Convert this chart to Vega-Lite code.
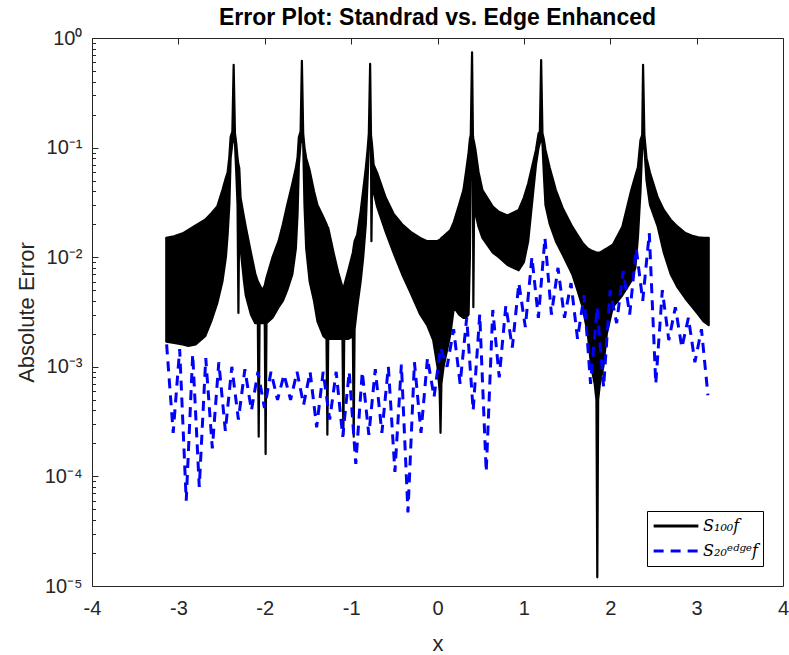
{
  "$schema": "https://vega.github.io/schema/vega-lite/v6.json",
  "width": 691,
  "height": 548,
  "autosize": "none",
  "padding": {"left": 92, "top": 38, "right": 6, "bottom": 69},
  "background": "white",
  "title": {"text": "Error Plot: Standrad vs. Edge Enhanced", "font": "Liberation Sans", "fontSize": 23, "fontWeight": "bold", "color": "#000000", "anchor": "middle", "offset": -2},
  "config": {
    "view": {"stroke": null},
    "axis": {"grid": true, "ticks": false, "tickSize": 0, "domainColor": "#262626", "domainWidth": 1, "gridColor": "#262626", "gridWidth": 1, "gridOpacity": 1, "labelColor": "#262626", "labelFont": "Liberation Sans", "labelFontSize": 20, "titleFont": "Liberation Sans", "titleFontSize": 22, "titleFontWeight": "normal", "titleColor": "#262626"},
    "legend": {"orient": "none", "legendX": 555, "legendY": 473, "symbolType": "stroke", "symbolSize": 2000, "symbolStrokeWidth": 3, "clipHeight": 20, "labelFont": "DejaVu Serif", "labelFontStyle": "italic", "labelFontSize": 16, "labelColor": "#000000", "padding": 5, "strokeColor": "#000000", "fillColor": "#ffffff", "rowPadding": 5, "labelOffset": 3, "cornerRadius": 0}
  },
  "resolve": {"axis": {"x": "independent", "y": "independent"}},
  "datasets": {
    "black": [
      {"x": -3.14, "hi": 0.015, "lo": 0.0017},
      {"x": -3.05, "hi": 0.0155, "lo": 0.00165},
      {"x": -2.95, "hi": 0.0165, "lo": 0.0016},
      {"x": -2.885, "hi": 0.0177, "lo": 0.00155},
      {"x": -2.8, "hi": 0.0195, "lo": 0.0016},
      {"x": -2.69, "hi": 0.022, "lo": 0.0019},
      {"x": -2.62, "hi": 0.025, "lo": 0.0026},
      {"x": -2.55, "hi": 0.029, "lo": 0.0038},
      {"x": -2.49, "hi": 0.041, "lo": 0.006},
      {"x": -2.45, "hi": 0.053, "lo": 0.01},
      {"x": -2.43, "hi": 0.059, "lo": 0.016},
      {"x": -2.41, "hi": 0.082, "lo": 0.03},
      {"x": -2.395, "hi": 0.125, "lo": 0.08},
      {"x": -2.375, "hi": 0.14, "lo": 0.11},
      {"x": -2.36, "hi": 0.57, "lo": 0.12},
      {"x": -2.345, "hi": 0.135, "lo": 0.11},
      {"x": -2.33, "hi": 0.11, "lo": 0.06},
      {"x": -2.315, "hi": 0.08, "lo": 0.03},
      {"x": -2.305, "hi": 0.07, "lo": 0.0031},
      {"x": -2.295, "hi": 0.065, "lo": 0.025},
      {"x": -2.28, "hi": 0.035, "lo": 0.012},
      {"x": -2.24, "hi": 0.023, "lo": 0.006},
      {"x": -2.22, "hi": 0.019, "lo": 0.0045},
      {"x": -2.16, "hi": 0.011, "lo": 0.003},
      {"x": -2.11, "hi": 0.0071, "lo": 0.0025},
      {"x": -2.08, "hi": 0.006, "lo": 0.0025},
      {"x": -2.07, "hi": 0.0058, "lo": 0.00023},
      {"x": -2.06, "hi": 0.0056, "lo": 0.0025},
      {"x": -2.03, "hi": 0.005, "lo": 0.0025},
      {"x": -2.0, "hi": 0.0055, "lo": 0.0025},
      {"x": -1.99, "hi": 0.006, "lo": 0.00016},
      {"x": -1.98, "hi": 0.0065, "lo": 0.0025},
      {"x": -1.91, "hi": 0.01, "lo": 0.0028},
      {"x": -1.84, "hi": 0.014, "lo": 0.0035},
      {"x": -1.79, "hi": 0.02, "lo": 0.004},
      {"x": -1.74, "hi": 0.03, "lo": 0.005},
      {"x": -1.68, "hi": 0.047, "lo": 0.007},
      {"x": -1.64, "hi": 0.065, "lo": 0.012},
      {"x": -1.62, "hi": 0.082, "lo": 0.025},
      {"x": -1.605, "hi": 0.125, "lo": 0.07},
      {"x": -1.585, "hi": 0.14, "lo": 0.11},
      {"x": -1.57, "hi": 0.62, "lo": 0.12},
      {"x": -1.555, "hi": 0.135, "lo": 0.11},
      {"x": -1.54, "hi": 0.1, "lo": 0.03},
      {"x": -1.52, "hi": 0.08, "lo": 0.012},
      {"x": -1.48, "hi": 0.062, "lo": 0.006},
      {"x": -1.43, "hi": 0.04, "lo": 0.004},
      {"x": -1.39, "hi": 0.03, "lo": 0.0026},
      {"x": -1.32, "hi": 0.023, "lo": 0.0019},
      {"x": -1.285, "hi": 0.02, "lo": 0.0018},
      {"x": -1.275, "hi": 0.019, "lo": 0.00024},
      {"x": -1.265, "hi": 0.0185, "lo": 0.0018},
      {"x": -1.2, "hi": 0.0107, "lo": 0.0018},
      {"x": -1.15, "hi": 0.0073, "lo": 0.0018},
      {"x": -1.1, "hi": 0.0053, "lo": 0.0018},
      {"x": -1.09, "hi": 0.005, "lo": 0.00024},
      {"x": -1.08, "hi": 0.0055, "lo": 0.0018},
      {"x": -1.03, "hi": 0.0077, "lo": 0.0018},
      {"x": -0.98, "hi": 0.011, "lo": 0.0019},
      {"x": -0.97, "hi": 0.0125, "lo": 0.00023},
      {"x": -0.96, "hi": 0.014, "lo": 0.0022},
      {"x": -0.93, "hi": 0.016, "lo": 0.0035},
      {"x": -0.89, "hi": 0.026, "lo": 0.006},
      {"x": -0.86, "hi": 0.041, "lo": 0.01},
      {"x": -0.83, "hi": 0.065, "lo": 0.02},
      {"x": -0.81, "hi": 0.095, "lo": 0.05},
      {"x": -0.795, "hi": 0.135, "lo": 0.1},
      {"x": -0.78, "hi": 0.58, "lo": 0.12},
      {"x": -0.77, "hi": 0.13, "lo": 0.1},
      {"x": -0.765, "hi": 0.12, "lo": 0.014},
      {"x": -0.755, "hi": 0.1, "lo": 0.06},
      {"x": -0.74, "hi": 0.07, "lo": 0.04},
      {"x": -0.7, "hi": 0.059, "lo": 0.029},
      {"x": -0.6, "hi": 0.035, "lo": 0.017},
      {"x": -0.51, "hi": 0.025, "lo": 0.011},
      {"x": -0.41, "hi": 0.02, "lo": 0.007},
      {"x": -0.31, "hi": 0.017, "lo": 0.0047},
      {"x": -0.2, "hi": 0.015, "lo": 0.003},
      {"x": -0.12, "hi": 0.014, "lo": 0.0024},
      {"x": -0.05, "hi": 0.014, "lo": 0.00175},
      {"x": 0.0, "hi": 0.014, "lo": 0.001},
      {"x": 0.025, "hi": 0.0145, "lo": 0.0006},
      {"x": 0.035, "hi": 0.0145, "lo": 0.00025},
      {"x": 0.045, "hi": 0.015, "lo": 0.0007},
      {"x": 0.07, "hi": 0.0155, "lo": 0.001},
      {"x": 0.15, "hi": 0.0177, "lo": 0.002},
      {"x": 0.19, "hi": 0.021, "lo": 0.0035},
      {"x": 0.25, "hi": 0.03, "lo": 0.003},
      {"x": 0.3, "hi": 0.041, "lo": 0.0028},
      {"x": 0.33, "hi": 0.06, "lo": 0.0028},
      {"x": 0.36, "hi": 0.09, "lo": 0.003},
      {"x": 0.375, "hi": 0.12, "lo": 0.01},
      {"x": 0.385, "hi": 0.13, "lo": 0.05},
      {"x": 0.4, "hi": 0.74, "lo": 0.12},
      {"x": 0.41, "hi": 0.13, "lo": 0.1},
      {"x": 0.415, "hi": 0.12, "lo": 0.0035},
      {"x": 0.425, "hi": 0.11, "lo": 0.04},
      {"x": 0.44, "hi": 0.095, "lo": 0.025},
      {"x": 0.475, "hi": 0.06, "lo": 0.019},
      {"x": 0.52, "hi": 0.041, "lo": 0.015},
      {"x": 0.64, "hi": 0.029, "lo": 0.011},
      {"x": 0.71, "hi": 0.026, "lo": 0.01},
      {"x": 0.81, "hi": 0.024, "lo": 0.0085},
      {"x": 0.94, "hi": 0.027, "lo": 0.0076},
      {"x": 1.0, "hi": 0.035, "lo": 0.009},
      {"x": 1.05, "hi": 0.047, "lo": 0.014},
      {"x": 1.11, "hi": 0.075, "lo": 0.041},
      {"x": 1.14, "hi": 0.095, "lo": 0.07},
      {"x": 1.17, "hi": 0.135, "lo": 0.1},
      {"x": 1.185, "hi": 0.14, "lo": 0.11},
      {"x": 1.2, "hi": 0.63, "lo": 0.12},
      {"x": 1.215, "hi": 0.135, "lo": 0.11},
      {"x": 1.23, "hi": 0.12, "lo": 0.06},
      {"x": 1.25, "hi": 0.095, "lo": 0.03},
      {"x": 1.3, "hi": 0.065, "lo": 0.02},
      {"x": 1.37, "hi": 0.041, "lo": 0.014},
      {"x": 1.45, "hi": 0.028, "lo": 0.0105},
      {"x": 1.56, "hi": 0.019, "lo": 0.007},
      {"x": 1.62, "hi": 0.016, "lo": 0.005},
      {"x": 1.68, "hi": 0.0135, "lo": 0.0035},
      {"x": 1.74, "hi": 0.012, "lo": 0.002},
      {"x": 1.78, "hi": 0.0115, "lo": 0.001},
      {"x": 1.82, "hi": 0.0112, "lo": 0.0007},
      {"x": 1.84, "hi": 0.011, "lo": 0.0005},
      {"x": 1.85, "hi": 0.011, "lo": 0.000012},
      {"x": 1.86, "hi": 0.011, "lo": 0.0005},
      {"x": 1.88, "hi": 0.011, "lo": 0.0007},
      {"x": 1.92, "hi": 0.0115, "lo": 0.001},
      {"x": 1.96, "hi": 0.012, "lo": 0.002},
      {"x": 2.03, "hi": 0.013, "lo": 0.0035},
      {"x": 2.14, "hi": 0.019, "lo": 0.0045},
      {"x": 2.24, "hi": 0.04, "lo": 0.006},
      {"x": 2.29, "hi": 0.055, "lo": 0.008},
      {"x": 2.32, "hi": 0.066, "lo": 0.015},
      {"x": 2.35, "hi": 0.117, "lo": 0.04},
      {"x": 2.37, "hi": 0.13, "lo": 0.1},
      {"x": 2.38, "hi": 0.57, "lo": 0.12},
      {"x": 2.395, "hi": 0.13, "lo": 0.1},
      {"x": 2.42, "hi": 0.08, "lo": 0.05},
      {"x": 2.46, "hi": 0.059, "lo": 0.03},
      {"x": 2.55, "hi": 0.035, "lo": 0.019},
      {"x": 2.62, "hi": 0.027, "lo": 0.011},
      {"x": 2.7, "hi": 0.022, "lo": 0.007},
      {"x": 2.78, "hi": 0.019, "lo": 0.0053},
      {"x": 2.87, "hi": 0.0166, "lo": 0.0042},
      {"x": 2.95, "hi": 0.0157, "lo": 0.0035},
      {"x": 3.02, "hi": 0.0152, "lo": 0.003},
      {"x": 3.08, "hi": 0.015, "lo": 0.0026},
      {"x": 3.14, "hi": 0.015, "lo": 0.0024}
    ],
    "blue": [
      {"x": -3.136, "y": 0.0016}, {"x": -3.06, "y": 0.00025}, {"x": -2.985, "y": 0.00145}, {"x": -2.909, "y": 0.00006},
      {"x": -2.834, "y": 0.0013}, {"x": -2.758, "y": 0.00008}, {"x": -2.683, "y": 0.0012}, {"x": -2.607, "y": 0.00018},
      {"x": -2.532, "y": 0.0011}, {"x": -2.456, "y": 0.00026}, {"x": -2.381, "y": 0.001}, {"x": -2.305, "y": 0.00033},
      {"x": -2.23, "y": 0.00095}, {"x": -2.154, "y": 0.0004}, {"x": -2.079, "y": 0.0009}, {"x": -2.003, "y": 0.00042},
      {"x": -1.928, "y": 0.0009}, {"x": -1.852, "y": 0.0005}, {"x": -1.777, "y": 0.00085}, {"x": -1.701, "y": 0.0005},
      {"x": -1.626, "y": 0.0009}, {"x": -1.55, "y": 0.00045}, {"x": -1.475, "y": 0.0009}, {"x": -1.399, "y": 0.00028},
      {"x": -1.324, "y": 0.0009}, {"x": -1.248, "y": 0.00033}, {"x": -1.173, "y": 0.0009}, {"x": -1.097, "y": 0.00023},
      {"x": -1.022, "y": 0.0009}, {"x": -0.946, "y": 0.00013}, {"x": -0.871, "y": 0.0009}, {"x": -0.795, "y": 0.00024},
      {"x": -0.72, "y": 0.00095}, {"x": -0.644, "y": 0.00025}, {"x": -0.569, "y": 0.001}, {"x": -0.493, "y": 0.00011},
      {"x": -0.418, "y": 0.00105}, {"x": -0.342, "y": 0.000047}, {"x": -0.267, "y": 0.0011}, {"x": -0.191, "y": 0.00025},
      {"x": -0.116, "y": 0.0012}, {"x": -0.04, "y": 0.00053}, {"x": 0.036, "y": 0.0015}, {"x": 0.111, "y": 0.001},
      {"x": 0.187, "y": 0.0022}, {"x": 0.262, "y": 0.0007}, {"x": 0.338, "y": 0.0028}, {"x": 0.413, "y": 0.0004},
      {"x": 0.489, "y": 0.003}, {"x": 0.564, "y": 0.00011}, {"x": 0.64, "y": 0.0033}, {"x": 0.715, "y": 0.0008},
      {"x": 0.791, "y": 0.0036}, {"x": 0.866, "y": 0.0015}, {"x": 0.942, "y": 0.0058}, {"x": 1.017, "y": 0.0023},
      {"x": 1.093, "y": 0.01}, {"x": 1.168, "y": 0.0028}, {"x": 1.244, "y": 0.015}, {"x": 1.319, "y": 0.003},
      {"x": 1.395, "y": 0.008}, {"x": 1.47, "y": 0.0028}, {"x": 1.546, "y": 0.0058}, {"x": 1.621, "y": 0.0018},
      {"x": 1.697, "y": 0.0045}, {"x": 1.772, "y": 0.0007}, {"x": 1.848, "y": 0.0035}, {"x": 1.923, "y": 0.00065},
      {"x": 1.999, "y": 0.005}, {"x": 2.074, "y": 0.0025}, {"x": 2.15, "y": 0.0075}, {"x": 2.225, "y": 0.003},
      {"x": 2.301, "y": 0.012}, {"x": 2.376, "y": 0.004}, {"x": 2.452, "y": 0.0166}, {"x": 2.527, "y": 0.0007},
      {"x": 2.603, "y": 0.005}, {"x": 2.678, "y": 0.00175}, {"x": 2.754, "y": 0.0035}, {"x": 2.829, "y": 0.0015},
      {"x": 2.905, "y": 0.0028}, {"x": 2.98, "y": 0.0011}, {"x": 3.056, "y": 0.0022}, {"x": 3.131, "y": 0.00055}
    ]
  },
  "layer": [
    {
      "data": {"name": "black"},
      "mark": {"type": "area", "color": "#000000", "stroke": "#000000", "strokeWidth": 2.2, "strokeJoin": "round", "opacity": 1},
      "encoding": {
        "x": {"field": "x", "type": "quantitative", "scale": {"domain": [-4, 4], "nice": false, "zero": false},
          "axis": {"orient": "bottom", "values": [-4, -3, -2, -1, 0, 1, 2, 3, 4], "labelExpr": "datum.value < 0 ? '-' + abs(datum.value) : '' + datum.value", "gridDash": [6, 2000], "labelPadding": 12, "labelFlush": false, "title": "x", "titlePadding": 15}},
        "y": {"field": "hi", "type": "quantitative", "scale": {"type": "log", "domain": [0.00001, 1], "nice": false},
          "axis": {"orient": "left", "values": [0.00001, 0.00002, 0.00003, 0.00004, 0.00005, 0.00006, 0.00007, 0.00008, 0.00009, 0.0001, 0.0002, 0.0003, 0.0004, 0.0005, 0.0006, 0.0007, 0.0008, 0.0009, 0.001, 0.002, 0.003, 0.004, 0.005, 0.006, 0.007, 0.008, 0.009, 0.01, 0.02, 0.03, 0.04, 0.05, 0.06, 0.07, 0.08, 0.09, 0.1, 0.2, 0.3, 0.4, 0.5, 0.6, 0.7, 0.8, 0.9, 1],
            "labelExpr": "datum.value == 1 ? '10⁰' : datum.value == 0.1 ? '10⁻¹' : datum.value == 0.01 ? '10⁻²' : datum.value == 0.001 ? '10⁻³' : datum.value == 0.0001 ? '10⁻⁴' : datum.value == 0.00001 ? '10⁻⁵' : ''",
            "labelOverlap": false, "labelFlush": false,
            "gridDash": {"condition": {"test": "indexof([1, 0.1, 0.01, 0.001, 0.0001, 0.00001], datum.value) >= 0", "value": [6, 2000]}, "value": [3.5, 2000]},
            "labelPadding": 10, "title": "Absolute Error", "titlePadding": 6}},
        "y2": {"field": "lo"}
      }
    },
    {
      "data": {"name": "blue"},
      "mark": {"type": "line", "strokeWidth": 3, "strokeCap": "butt"},
      "encoding": {
        "x": {"field": "x", "type": "quantitative",
          "axis": {"orient": "top", "values": [-4, -3, -2, -1, 0, 1, 2, 3, 4], "labels": false, "gridDash": [6, 2000], "title": null}},
        "y": {"field": "y", "type": "quantitative",
          "axis": {"orient": "right", "values": [0.00001, 0.00002, 0.00003, 0.00004, 0.00005, 0.00006, 0.00007, 0.00008, 0.00009, 0.0001, 0.0002, 0.0003, 0.0004, 0.0005, 0.0006, 0.0007, 0.0008, 0.0009, 0.001, 0.002, 0.003, 0.004, 0.005, 0.006, 0.007, 0.008, 0.009, 0.01, 0.02, 0.03, 0.04, 0.05, 0.06, 0.07, 0.08, 0.09, 0.1, 0.2, 0.3, 0.4, 0.5, 0.6, 0.7, 0.8, 0.9, 1],
            "labels": false, "title": null,
            "gridDash": {"condition": {"test": "indexof([1, 0.1, 0.01, 0.001, 0.0001, 0.00001], datum.value) >= 0", "value": [6, 2000]}, "value": [3.5, 2000]}}},
        "color": {"datum": "S₂₀ᵉᵈᵍᵉf", "scale": {"domain": ["S₁₀₀f", "S₂₀ᵉᵈᵍᵉf"], "range": ["#000000", "#0000ff"]}, "legend": {"title": null}},
        "strokeDash": {"datum": "S₂₀ᵉᵈᵍᵉf", "scale": {"domain": ["S₁₀₀f", "S₂₀ᵉᵈᵍᵉf"], "range": [[1, 0], [10, 7]]}, "legend": {"title": null}}
      }
    }
  ]
}
